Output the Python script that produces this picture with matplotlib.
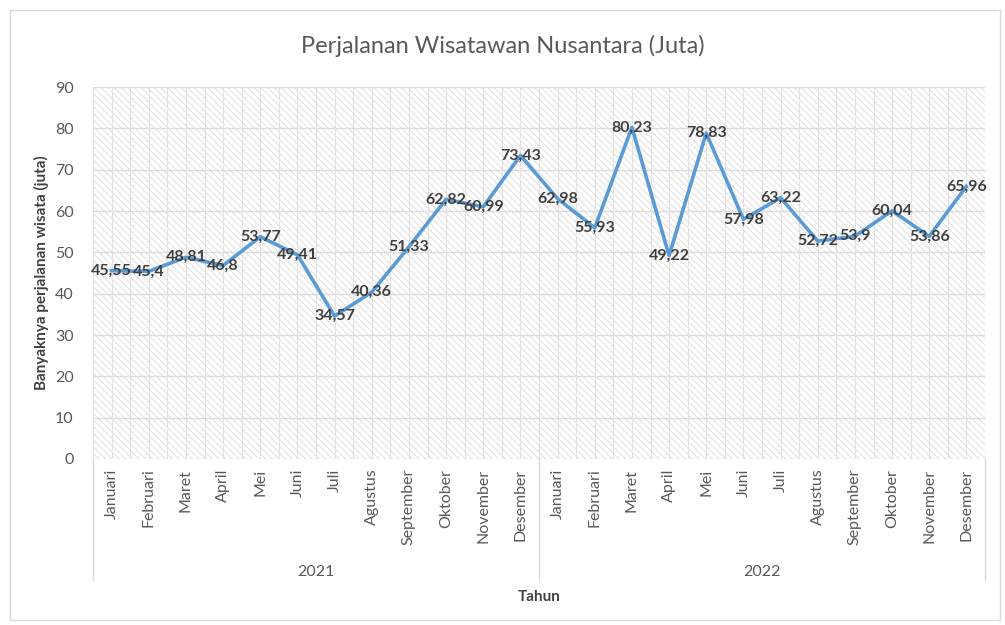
import matplotlib.pyplot as plt
from matplotlib.patches import Rectangle

plt.rcParams['font.family'] = ['Lato', 'DejaVu Sans']
plt.rcParams['hatch.linewidth'] = 0.6
plt.rcParams['hatch.color'] = '#dadada'

# Data
months = ['Januari', 'Februari', 'Maret', 'April', 'Mei', 'Juni', 'Juli',
          'Agustus', 'September', 'Oktober', 'November', 'Desember']
years = ['2021', '2022']
values_2021 = [45.55, 45.4, 48.81, 46.8, 53.77, 49.41, 34.57, 40.36, 51.33, 62.82, 60.99, 73.43]
values_2022 = [62.98, 55.93, 80.23, 49.22, 78.83, 57.98, 63.22, 52.72, 53.9, 60.04, 53.86, 65.96]

values = values_2021 + values_2022
labels = months * len(years)
x = list(range(len(values)))

fig = plt.figure(figsize=(10.05, 6.25), dpi=100)
ax = fig.add_axes([93 / 1005, 1 - 459 / 625, (985 - 93) / 1005, (459 - 87) / 625])

# outer chart border
fig.patches.append(Rectangle((10 / 1005, 5 / 625), 990 / 1005, 610 / 625,
                             transform=fig.transFigure, fill=False,
                             edgecolor='#d9d9d9', linewidth=1))

# hatched plot background
ax.add_patch(Rectangle((0, 0), 1, 1, transform=ax.transAxes, facecolor='white',
                       hatch='\\\\\\\\\\', edgecolor='#dadada', linewidth=0, zorder=0))

ax.set_xlim(-0.5, len(values) - 0.5)
ax.set_ylim(0, 90)
ax.set_yticks(range(0, 91, 10))

# gridlines
for yv in range(10, 91, 10):
    ax.axhline(yv, color='#dcdcdc', linewidth=1, zorder=1)
for i in range(2 * len(values) + 1):
    ax.axvline(-0.5 + i * 0.5, color='#e2e2e2', linewidth=0.8, zorder=1)

ax.plot(x, values, color='#5b9bd5', linewidth=2.6, zorder=3)

for xi, v in zip(x, values):
    txt = ('%g' % v).replace('.', ',')
    ax.text(xi, v, txt, ha='center', va='center', fontsize=11.5,
            fontweight='bold', color='#404040', zorder=4)

for s in ax.spines.values():
    s.set_visible(False)
ax.axhline(0, color='#d9d9d9', linewidth=1, zorder=2)

ax.set_xticks(x)
ax.set_xticklabels(labels, rotation=90, fontsize=11.5, color='#595959')
ax.tick_params(axis='x', length=0, pad=7)
ax.tick_params(axis='y', length=0, labelsize=11.5, labelcolor='#595959', pad=14)

# group separators and year labels
trans = ax.get_xaxis_transform()
n = len(months)
for k in range(len(years) + 1):
    ax.plot([k * n - 0.5, k * n - 0.5], [0, -0.325], transform=trans,
            color='#d9d9d9', linewidth=1, clip_on=False)
for k, yr in enumerate(years):
    ax.text(k * n + (n - 1) / 2, -0.304, yr, transform=trans, ha='center',
            va='center', fontsize=11.5, color='#595959')

ax.text(0.5, -0.372, 'Tahun', transform=ax.transAxes, ha='center', va='center',
        fontsize=11, fontweight='bold', color='#404040')
ax.set_ylabel('Banyaknya perjalanan wisata (juta)', fontsize=11,
              fontweight='bold', color='#404040', labelpad=4)

fig.text(0.5, 1 - 46 / 625, 'Perjalanan Wisatawan Nusantara (Juta)', ha='center',
         va='center', fontsize=17, color='#595959')

fig.savefig('out.png', dpi=100)
